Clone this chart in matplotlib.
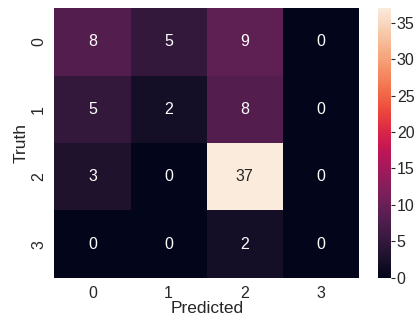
import matplotlib
matplotlib.use("Agg")
import matplotlib.pyplot as plt
import seaborn as sns
import numpy as np

labels = ["0", "1", "2", "3"]
row0 = [8, 5, 9, 0]
row1 = [5, 2, 8, 0]
row2 = [3, 0, 37, 0]
row3 = [0, 0, 2, 0]
cm = np.array([row0, row1, row2, row3])

sns.set_theme(style="white")
plt.rcParams['font.family'] = ['Liberation Sans', 'DejaVu Sans']

fig = plt.figure(figsize=(4.18, 3.22), dpi=100)
ax = fig.add_axes([0.130, 0.137, 0.729, 0.838])
cax = fig.add_axes([0.904, 0.137, 0.032, 0.838])
sns.heatmap(cm, annot=True, fmt="d", ax=ax, cbar_ax=cax,
            xticklabels=labels, yticklabels=labels,
            annot_kws={"size": 11.5})
ax.set_yticklabels(labels, rotation=90, va="center", fontsize=11.5)
ax.set_xticklabels(labels, rotation=0, fontsize=11.5)
ax.set_xlabel("Predicted", fontsize=12.5, labelpad=0)
ax.set_ylabel("Truth", fontsize=12.5, labelpad=2)
ax.tick_params(length=0, pad=6)
cax.tick_params(labelsize=11.5, length=3, width=0.8, color=".15", pad=1)
cax.set_yticks([0, 5, 10, 15, 20, 25, 30, 35])
fig.savefig("out.png", dpi=100)
